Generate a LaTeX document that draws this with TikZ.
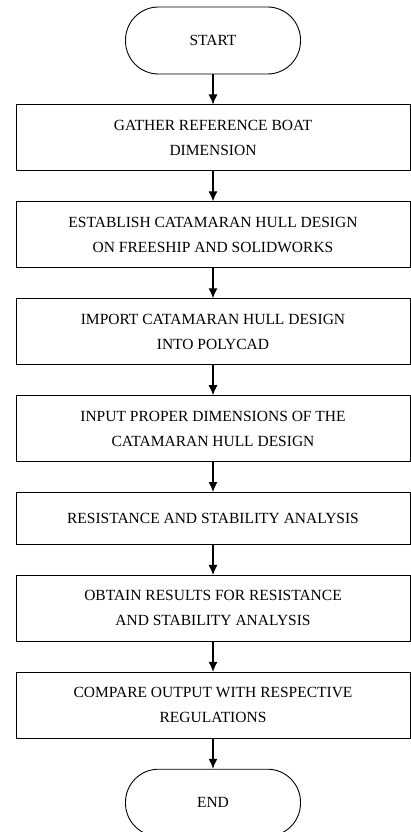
\documentclass[tikz,border=0pt]{standalone}
\usepackage{fontspec}
\setmainfont{Liberation Serif}
\usetikzlibrary{arrows.meta,positioning}

\begin{document}
\begin{tikzpicture}[x=1pt,y=1pt,node distance=30pt,
      term/.style={draw,line width=0.9pt,rounded corners=33pt,minimum width=175pt,minimum height=67pt,font=\fontsize{15.5}{25}\selectfont},
      stepbox/.style={draw,line width=0.9pt,minimum width=394pt,minimum height=66pt,align=center,font=\fontsize{15.5}{25}\selectfont},
      arr/.style={-{Latex[length=10pt,width=9pt]},line width=1.1pt}]
    \useasboundingbox (0,0) rectangle (410,-832);
    \node[term] (start) at (213,-40.5) {START};
    \node[stepbox,below=of start] (gather) {GATHER REFERENCE BOAT\\DIMENSION};
    \node[stepbox,below=of gather] (establish)
      {ESTABLISH CATAMARAN HULL DESIGN\\ON FREESHIP AND SOLIDWORKS};
    \node[stepbox,below=of establish] (import)
      {IMPORT CATAMARAN HULL DESIGN\\INTO POLYCAD};
    \node[stepbox,below=of import] (input)
      {INPUT PROPER DIMENSIONS OF THE\\CATAMARAN HULL DESIGN};
    \node[stepbox,minimum height=52pt,below=of input] (analysis)
      {RESISTANCE AND STABILITY ANALYSIS};
    \node[stepbox,below=of analysis] (results)
      {OBTAIN RESULTS FOR RESISTANCE\\AND STABILITY ANALYSIS};
    \node[stepbox,below=of results] (compare)
      {COMPARE OUTPUT WITH RESPECTIVE\\REGULATIONS};
    \node[term,below=of compare] (end) {END};
    \draw[arr] (start) -- (gather);
    \draw[arr] (gather) -- (establish);
    \draw[arr] (establish) -- (import);
    \draw[arr] (import) -- (input);
    \draw[arr] (input) -- (analysis);
    \draw[arr] (analysis) -- (results);
    \draw[arr] (results) -- (compare);
    \draw[arr] (compare) -- (end);
  \end{tikzpicture}
\end{document}
